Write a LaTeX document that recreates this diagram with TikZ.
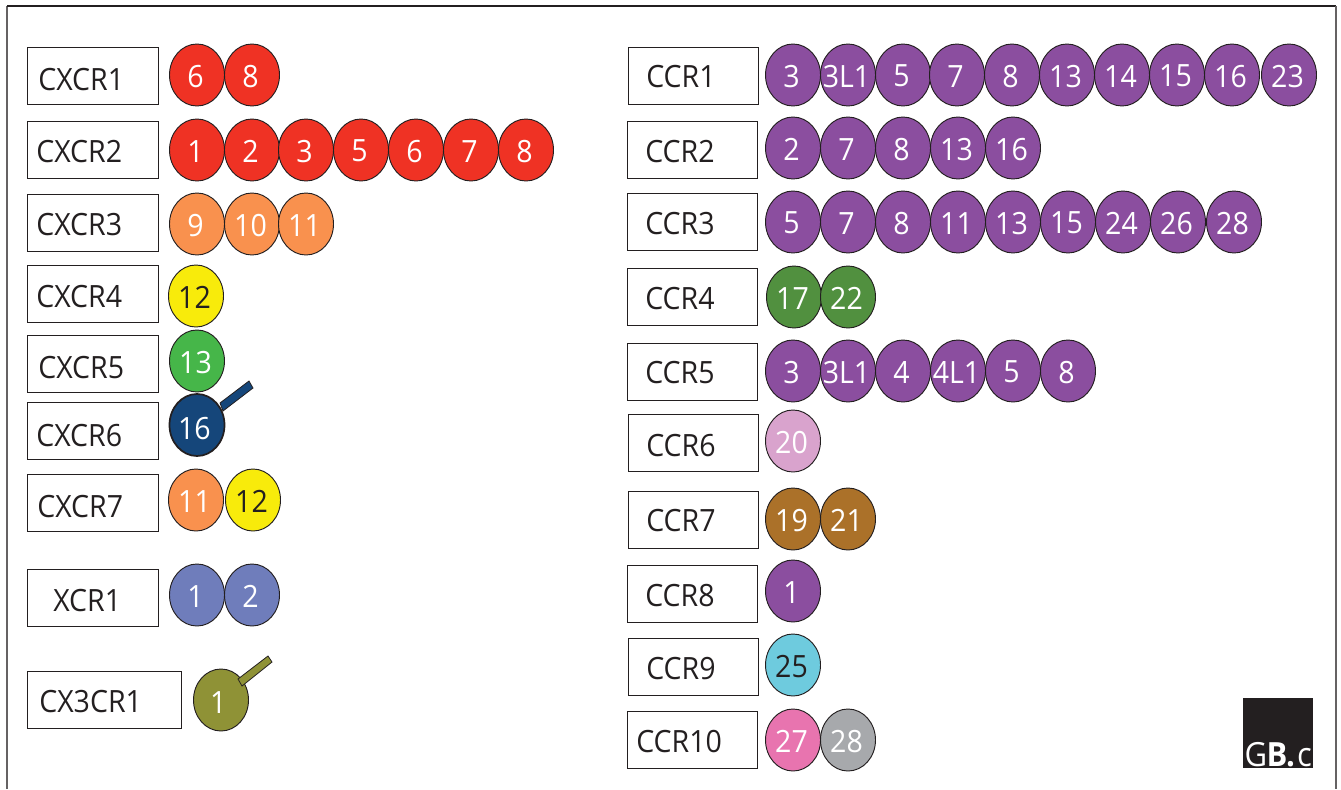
\documentclass[tikz,border=0pt]{standalone}
\usepackage{fontspec}
\setmainfont[FakeStretch=0.93]{Open Sans}
\usetikzlibrary{shapes.geometric}
\definecolor{ink}{HTML}{231F20}
\definecolor{cRed}{HTML}{EF3224}
\definecolor{cOrange}{HTML}{F9914E}
\definecolor{cYellow}{HTML}{F8EB0B}
\definecolor{cGreen}{HTML}{46B649}
\definecolor{cNavy}{HTML}{15467A}
\definecolor{cPeri}{HTML}{6F7DBB}
\definecolor{cOlive}{HTML}{8F9236}
\definecolor{cPurple}{HTML}{8B4E9F}
\definecolor{cDkGreen}{HTML}{51903F}
\definecolor{cMauve}{HTML}{D9A3CD}
\definecolor{cBrown}{HTML}{AB7129}
\definecolor{cCyan}{HTML}{6ECBDE}
\definecolor{cPink}{HTML}{E874AF}
\definecolor{cGrey}{HTML}{A7A9AC}
\tikzset{
  frameline/.style={draw=ink!70,line width=0.9pt},
  receptor/.style={draw=ink,line width=0.7pt,fill=white},
  rlabel/.style={anchor=west,inner sep=0pt,text=ink,font=\fontsize{23pt}{26pt}\selectfont},
  beadtext/.style={inner sep=0pt,font=\fontsize{23pt}{26pt}\selectfont},
  stalk/.style={draw=ink,line width=0.6pt},
}
\newcommand\recbox[6]{%
  \node[receptor,anchor=north west,minimum width=#4*0.75pt-#2*0.75pt-0.7pt,minimum height=57*0.75pt,inner sep=0pt] (#1) at (#2,#3) {};
  \node[rlabel] (#1t) at (#5-1,#6+0.7) {\detokenize{#1}};
}
\newcommand\bead[6]{%
  \node[ellipse,draw=ink,line width=0.7pt,minimum width=55*0.75pt,minimum height=62*0.75pt,inner sep=0pt,fill=#4] (#1) at (#2,#3) {};
  \node[beadtext,text=#5] (#1t) at ([xshift=-1.1pt,yshift=-0.8pt]#1.center) {#6};
}
\newcommand\beadrow[4]{%
  \foreach \px/\num [count=\ci] in {#4} {
    \bead{#1-\ci}{\px}{#2}{#3}{white}{\num}
  }
}
\begin{document}
\begin{tikzpicture}[x=0.75pt,y=-0.75pt]
\useasboundingbox (0,0) rectangle (1341,789);
\coordinate (fbl) at (7,789);
\coordinate (ftl) at (7,6);
\coordinate (ftr) at (1336,6);
\coordinate (fbr) at (1336,789);
\draw[frameline] (fbl) -- (ftl);
\draw[draw=ink,line width=0.9pt] (ftl) -- (ftr);
\draw[frameline] (ftr) -- (fbr);

% stalk behind the CXCR6 bead
\draw[stalk,fill=cNavy] (220,403) -- (249,381) -- (253,388) -- (223,411) -- cycle;

% left column
\recbox{CXCR1}{27}{47}{159}{39}{79}
\recbox{CXCR2}{27}{121}{159}{37}{151}
\recbox{CXCR3}{27}{194}{159}{37}{224}
\recbox{CXCR4}{27}{265}{159}{37}{296}
\recbox{CXCR5}{27}{335}{159}{39}{367}
\recbox{CXCR6}{27}{402}{159}{37}{435}
\recbox{CXCR7}{27}{474}{159}{38}{506}
\recbox{XCR1}{27}{569}{159}{54}{600}
\recbox{CX3CR1}{27}{671}{182}{40}{701}

\beadrow{a}{75}{cRed}{197/6,252/8}
\beadrow{b}{150}{cRed}{197/1,252/2,306/3,361/5,416/6,471/7,526/8}
\beadrow{c}{224}{cOrange}{197/9,252/10,306/11}
\bead{d}{196}{296}{cYellow}{ink}{12}
\bead{e}{197}{361}{cGreen}{white}{13}
\node[ellipse,draw=ink,line width=1.3pt,minimum width=55*0.75pt,minimum height=62*0.75pt,inner sep=0pt,fill=cNavy] (f) at (197,425) {};
\node[beadtext,text=white] (ft) at ([xshift=-2pt,yshift=-3pt]f.center) {16};
\bead{g1}{196}{500}{cOrange}{white}{11}
\bead{g2}{253}{500}{cYellow}{ink}{12}
\beadrow{h}{595}{cPeri}{197/1,252/2}
\node[ellipse,draw=ink,line width=0.7pt,minimum width=55*0.75pt,minimum height=62*0.75pt,inner sep=0pt,fill=cOlive] (i) at (221,700) {};
\node[beadtext,text=white] (it) at ([xshift=-2pt,yshift=-2.2pt]i.center) {1};
\draw[stalk,fill=cOlive] (238,679) -- (268,656) -- (272,662) -- (242,686) -- cycle;

% right column
\recbox{CCR1}{628}{47}{759}{647}{76}
\recbox{CCR2}{627}{121}{758}{646}{151}
\recbox{CCR3}{627}{193}{758}{646}{223}
\recbox{CCR4}{627}{268}{758}{646}{298}
\recbox{CCR5}{627}{343}{758}{646}{372}
\recbox{CCR6}{628}{414}{759}{647}{445}
\recbox{CCR7}{628}{491}{759}{647}{520}
\recbox{CCR8}{627}{565}{758}{646}{595}
\recbox{CCR9}{628}{638}{759}{647}{668}
\recbox{CCR10}{627}{711}{758}{637}{741}

\beadrow{j}{75}{cPurple}{793/3,848/3L1,903/5,957/7,1012/8,1067/13,1122/14,1177/15,1232/16,1289/23}
\beadrow{k}{148}{cPurple}{793/2,848/7,903/8,958/13,1013/16}
\beadrow{l}{222}{cPurple}{793/5,848/7,903/8,958/11,1013/13,1068/15,1123/24,1178/26,1234/28}
\beadrow{m}{297}{cDkGreen}{794/17,848/22}
\beadrow{n}{371}{cPurple}{793/3,848/3L1,903/4,958/4L1,1013/5,1068/8}
\bead{o}{793}{441}{cMauve}{white}{20}
\beadrow{p}{519}{cBrown}{793/19,848/21}
\bead{q}{793}{591}{cPurple}{white}{1}
\bead{r}{793}{665}{cCyan}{ink}{25}
\bead{s1}{793}{740}{cPink}{white}{27}
\bead{s2}{848}{740}{cGrey}{white}{28}

% logo
\node[fill=ink,minimum size=70*0.75pt,inner sep=0pt,anchor=north west] (logo) at (1243,698) {};
\node[anchor=south,inner sep=0pt,text=white,font=\fontsize{25pt}{27pt}\selectfont] (logot) at ([yshift=1.2pt]logo.south) {G\kern-0.5pt\textbf{B.}\kern1.5pt c};
\end{tikzpicture}
\end{document}
